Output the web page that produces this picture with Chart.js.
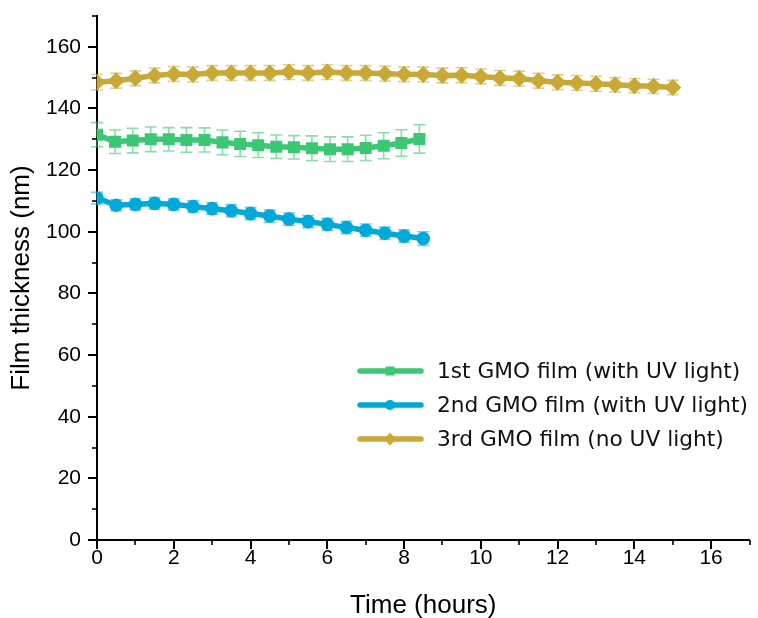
<!DOCTYPE html>
<html>
<head>
<meta charset="utf-8">
<script src="https://cdn.jsdelivr.net/npm/chart.js@4/dist/chart.umd.min.js"></script>
<style>
  html, body { margin: 0; padding: 0; background: #fff; }
  #c { display: block; }
</style>
</head>
<body>
<canvas id="c" width="758" height="618"></canvas>
<script>
// ---- Data ----
const seriesNames = [
  "1st GMO film (with UV light)",
  "2nd GMO film (with UV light)",
  "3rd GMO film (no UV light)"
];

const time1 = [0, 0.47, 0.93, 1.4, 1.87, 2.33, 2.8, 3.27, 3.73, 4.2, 4.67, 5.13, 5.6, 6.07, 6.53, 7.0, 7.47, 7.93, 8.4];
const thick1 = [131.5, 129.2, 129.6, 130.0, 130.0, 129.8, 129.8, 129.0, 128.5, 128.1, 127.6, 127.4, 127.1, 126.8, 126.8, 127.2, 127.9, 128.8, 130.1];
const err1 = [3.9, 3.8, 4.0, 4.0, 3.8, 4.0, 3.9, 4.0, 4.1, 4.0, 3.8, 3.8, 4.0, 4.0, 4.0, 4.1, 4.2, 4.3, 4.6];

const time2 = [0, 0.5, 1, 1.5, 2, 2.5, 3, 3.5, 4, 4.5, 5, 5.5, 6, 6.5, 7, 7.5, 8, 8.5];
const thick2 = [110.9, 108.6, 108.9, 109.2, 108.9, 108.2, 107.5, 106.8, 105.9, 105.1, 104.1, 103.3, 102.4, 101.4, 100.5, 99.5, 98.6, 97.8];
const err2 = [1.9, 1.8, 1.8, 1.9, 1.8, 1.9, 1.9, 2.0, 2.0, 2.0, 2.0, 2.0, 2.0, 2.0, 2.0, 2.0, 2.0, 2.2];

const time3 = [0, 0.5, 1, 1.5, 2, 2.5, 3, 3.5, 4, 4.5, 5, 5.5, 6, 6.5, 7, 7.5, 8, 8.5, 9, 9.5, 10, 10.5, 11, 11.5, 12, 12.5, 13, 13.5, 14, 14.5, 15];
const thick3 = [148.5, 149.0, 149.8, 150.7, 151.2, 151.0, 151.5, 151.5, 151.5, 151.5, 151.8, 151.5, 151.8, 151.5, 151.5, 151.3, 151.1, 151.0, 150.7, 150.8, 150.4, 149.9, 149.7, 149.0, 148.5, 148.3, 148.0, 147.7, 147.4, 147.2, 146.8];
const err3 = [2.5, 2.4, 2.4, 2.4, 2.4, 2.4, 2.4, 2.4, 2.4, 2.4, 2.4, 2.4, 2.4, 2.4, 2.4, 2.4, 2.4, 2.4, 2.4, 2.4, 2.4, 2.4, 2.4, 2.4, 2.4, 2.4, 2.4, 2.3, 2.3, 2.3, 2.3];

const xTickLabels = [0, 2, 4, 6, 8, 10, 12, 14, 16];
const yTickLabels = [0, 20, 40, 60, 80, 100, 120, 140, 160];

// ---- Styles ----
const colors = ['#3CC873', '#00A9D8', '#C9A936'];
const errColors = ['rgba(60,200,115,0.6)', 'rgba(0,169,216,0.55)', 'rgba(201,169,54,0.55)'];
const pointStyles = ['rect', 'circle', 'rectRot'];
const pointRadii = [8.5, 6.8, 8.5];

function toXY(xs, ys) { return xs.map((x, i) => ({ x: x, y: ys[i] })); }

const datasets = [
  { label: seriesNames[0], data: toXY(time1, thick1), errors: err1 },
  { label: seriesNames[1], data: toXY(time2, thick2), errors: err2 },
  { label: seriesNames[2], data: toXY(time3, thick3), errors: err3 }
].map((d, i) => Object.assign(d, {
  borderColor: colors[i],
  backgroundColor: colors[i],
  borderWidth: 5.5,
  pointStyle: pointStyles[i],
  pointRadius: pointRadii[i],
  pointBorderWidth: 0,
  pointBackgroundColor: colors[i],
  tension: 0,
  fill: false,
  errColor: errColors[i]
}));

// ---- Plugins ----
const errorBarPlugin = {
  id: 'errorBars',
  beforeDatasetsDraw(chart) {
    const ctx = chart.ctx;
    const xs = chart.scales.x, ys = chart.scales.y;
    ctx.save();
    chart.data.datasets.forEach(ds => {
      ctx.strokeStyle = ds.errColor;
      ctx.lineWidth = 1.6;
      ds.data.forEach((p, i) => {
        const e = ds.errors[i];
        const px = xs.getPixelForValue(p.x);
        const pTop = ys.getPixelForValue(p.y + e);
        const pBot = ys.getPixelForValue(p.y - e);
        ctx.beginPath();
        ctx.moveTo(px, pTop); ctx.lineTo(px, pBot);
        ctx.moveTo(px - 6, pTop); ctx.lineTo(px + 6, pTop);
        ctx.moveTo(px - 6, pBot); ctx.lineTo(px + 6, pBot);
        ctx.stroke();
      });
    });
    ctx.restore();
  }
};

const axisTickPlugin = {
  id: 'axisTicks',
  afterDraw(chart) {
    const ctx = chart.ctx;
    const xs = chart.scales.x, ys = chart.scales.y;
    const area = chart.chartArea;
    ctx.save();
    ctx.strokeStyle = '#000';
    for (let v = 0; v <= 17; v += 1) {
      const major = v % 2 === 0;
      const len = major ? 9 : 5;
      const px = Math.round(xs.getPixelForValue(v));
      ctx.lineWidth = major ? 2 : 1.6;
      ctx.beginPath();
      ctx.moveTo(px, area.bottom);
      ctx.lineTo(px, area.bottom + len);
      ctx.stroke();
    }
    for (let v = 0; v <= 170; v += 10) {
      const major = v % 20 === 0;
      const len = major ? 9 : 5;
      const py = Math.round(ys.getPixelForValue(v));
      ctx.lineWidth = major ? 2 : 1.6;
      ctx.beginPath();
      ctx.moveTo(area.left, py);
      ctx.lineTo(area.left - len, py);
      ctx.stroke();
    }
    ctx.restore();
  }
};

function drawMarker(ctx, style, x, y, r) {
  ctx.beginPath();
  if (style === 'circle') {
    ctx.arc(x, y, r, 0, Math.PI * 2);
  } else if (style === 'rect') {
    const s = r / Math.SQRT2;
    ctx.rect(x - s, y - s, 2 * s, 2 * s);
  } else if (style === 'rectRot') {
    ctx.moveTo(x, y - r); ctx.lineTo(x + r, y); ctx.lineTo(x, y + r); ctx.lineTo(x - r, y);
    ctx.closePath();
  }
  ctx.fill();
}

const legendPlugin = {
  id: 'insideLegend',
  afterDraw(chart) {
    const ctx = chart.ctx;
    const rowsY = [371, 405, 439];
    ctx.save();
    ctx.font = '21.7px "DejaVu Sans"';
    ctx.textBaseline = 'middle';
    ctx.textAlign = 'left';
    chart.data.datasets.forEach((ds, i) => {
      const y = rowsY[i];
      ctx.strokeStyle = ds.borderColor;
      ctx.lineWidth = 5.5;
      ctx.lineCap = 'round';
      ctx.beginPath();
      ctx.moveTo(360, y); ctx.lineTo(421, y);
      ctx.stroke();
      ctx.fillStyle = ds.borderColor;
      drawMarker(ctx, ds.pointStyle, 390, y, ds.pointRadius * 0.75);
      ctx.fillStyle = '#111';
      ctx.fillText(ds.label, 437, y + 1);
    });
    ctx.restore();
  }
};

// ---- Chart ----
new Chart(document.getElementById('c'), {
  type: 'line',
  data: { datasets: datasets },
  plugins: [errorBarPlugin, axisTickPlugin, legendPlugin],
  options: {
    responsive: false,
    animation: false,
    devicePixelRatio: 1,
    layout: { padding: { left: 0, top: 16, right: 5, bottom: 0 } },
    plugins: { legend: { display: false }, tooltip: { enabled: false } },
    scales: {
      x: {
        type: 'linear',
        min: 0, max: 17,
        afterFit: s => { s.height = 78; s.paddingLeft = 0; s.paddingRight = 0; },
        grid: { display: false, drawTicks: false },
        border: { display: true, color: '#000', width: 2 },
        ticks: {
          stepSize: 1,
          autoSkip: false,
          maxRotation: 0,
          padding: 6,
          color: '#000',
          font: { family: '"Liberation Sans", Arial, sans-serif', size: 21 },
          callback: v => xTickLabels.includes(v) ? String(v) : ''
        },
        title: {
          display: true,
          text: 'Time (hours)',
          color: '#000',
          font: { family: '"Liberation Sans", Arial, sans-serif', size: 26, lineHeight: 1 },
          padding: { top: 0, bottom: -1 }
        }
      },
      y: {
        type: 'linear',
        min: 0, max: 170,
        afterFit: s => { s.width = 97; s.paddingTop = 0; s.paddingBottom = 0; },
        grid: { display: false, drawTicks: false },
        border: { display: true, color: '#000', width: 2 },
        ticks: {
          stepSize: 10,
          autoSkip: false,
          padding: 16,
          color: '#000',
          font: { family: '"Liberation Sans", Arial, sans-serif', size: 21 },
          callback: v => yTickLabels.includes(v) ? String(v) : ''
        },
        title: {
          display: true,
          text: 'Film thickness (nm)',
          color: '#000',
          font: { family: '"Liberation Sans", Arial, sans-serif', size: 26, lineHeight: 1 },
          padding: { top: 9, bottom: 0 }
        }
      }
    }
  }
});
</script>
</body>
</html>
